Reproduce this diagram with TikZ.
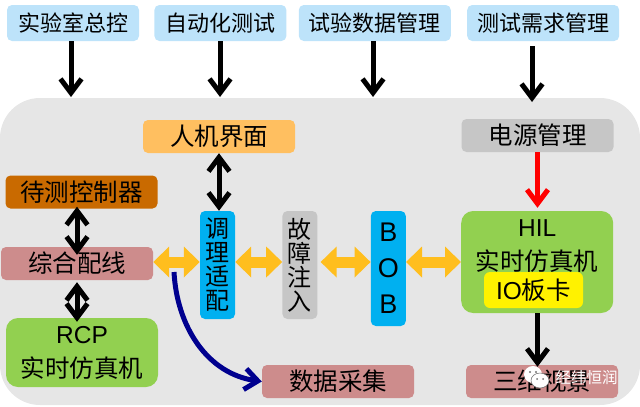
\documentclass[tikz,border=0pt]{standalone}
\usepackage{fontspec}
\setmainfont{Liberation Sans}
\newfontfamily\cjk{Noto Sans CJK SC}
\usepackage{xcolor}
\usetikzlibrary{positioning,arrows.meta}

\definecolor{panelgray}{HTML}{E6E6E6}
\definecolor{skyblue}{HTML}{BDE3FA}
\definecolor{hmiorange}{HTML}{FFBF60}
\definecolor{ecubrown}{HTML}{C96A00}
\definecolor{wirepink}{HTML}{CD8C8C}
\definecolor{simgreen}{HTML}{92D050}
\definecolor{condblue}{HTML}{00B0F0}
\definecolor{boxgray}{HTML}{C6C6C6}
\definecolor{busyellow}{HTML}{FFBE1E}
\definecolor{curvenavy}{HTML}{00008F}

\tikzset{
	blockbox/.style={rectangle, rounded corners=5pt, inner sep=0pt, minimum width=152pt, minimum height=33pt, font=\cjk\fontsize{24.5}{24}\selectfont, align=center},
	topbox/.style={blockbox, fill=skyblue, minimum width=132pt, minimum height=36pt, font=\cjk\fontsize{22}{24}\selectfont},
	tallbox/.style={blockbox, minimum width=35pt, minimum height=108pt, font=\cjk\fontsize{24}{24}\selectfont},
	simbox/.style={blockbox, fill=simgreen, rounded corners=12pt, font=\cjk\fontsize{24.5}{34}\selectfont},
	blackarrow/.style={line width=5pt, black, {Straight Barb[width=21pt,length=14pt]}-{Straight Barb[width=21pt,length=14pt]}},
	downarrow/.style={line width=5pt, black, -{Straight Barb[width=21pt,length=14pt]}},
	busarrow/.style={line width=11pt, busyellow, {Triangle[width=30pt,length=16pt]}-{Triangle[width=30pt,length=16pt]}},
}

\begin{document}
\begin{tikzpicture}[x=1pt, y=-1pt]
	\useasboundingbox (0,0) rectangle (640,407);

	\node[fill=panelgray, rounded corners=40pt, inner sep=0pt, minimum width=640pt, minimum height=307pt] (panel) at (320,251.5) {};

	% top row
	\node[topbox] (labctl) at (73,23) {实验室总控};
	\node[topbox] (autotest) [right=15pt of labctl] {自动化测试};
	\node[topbox, minimum width=152pt] (testdata) [right=12pt of autotest] {试验数据管理};
	\node[topbox, minimum width=152pt] (testreq) [right=16pt of testdata] {测试需求管理};

	\node[blockbox, fill=hmiorange] (hmi) at (219,136.5) {人机界面};
	\node[blockbox, fill=boxgray] (power) at (537.5,135.5) {电源管理};

	\node[blockbox, fill=ecubrown] (ecu) at (81.5,192) {待测控制器};
	\node[blockbox, fill=wirepink] (wiring) at (77,263.5) {综合配线};
	\node[simbox, minimum height=69pt] (rcp) at (82,352.5) {{\rmfamily RCP}\\实时仿真机};

	\node[tallbox, fill=condblue] (cond) at (217.5,265) {调\\理\\适\\配};
	\node[tallbox, fill=boxgray] (fault) [right=47pt of cond] {故\\障\\注\\入};
	\node[tallbox, fill=condblue, minimum height=115pt, font=\rmfamily\fontsize{27}{36}\selectfont] (bob) [right=53pt of fault, yshift=-3.5pt] {B\\O\\B};
	\node[simbox, minimum height=102pt] (hil) [right=55pt of bob, yshift=6.5pt] {{\rmfamily HIL}\\实时仿真机\\[-10pt]\strut};
	\node[blockbox, fill=yellow, minimum width=99pt, minimum height=36pt, rounded corners=6pt] (ioboard) at (533.5,290) {{\rmfamily IO}板卡};

	\node[blockbox, fill=wirepink] (daq) at (338,381.5) {数据采集};
	\node[blockbox, fill=wirepink] (scene) at (542,381.5) {三维视景};

	% arrow ends
	\coordinate (labin) at (71,97);
	\coordinate (autoin) at (220,97);
	\coordinate (datain) at (373,97);
	\coordinate (reqin) at (532,102);
	\coordinate (bus) at (0,262);
	\coordinate (tap) at (174,272);

	\draw[downarrow] (labctl.south -| labin) -- (labin);
	\draw[downarrow] (autotest.south -| autoin) -- (autoin);
	\draw[downarrow] (testdata.south -| datain) -- (datain);
	\draw[downarrow] ([yshift=-5pt]testreq.south -| reqin) -- (reqin);

	\draw[blackarrow] (hmi.south) -- (hmi.south |- cond.north);
	\draw[blackarrow] ([yshift=2pt]ecu.south -| wiring) -- ([yshift=-8pt]wiring.north);
	\draw[blackarrow] ([yshift=-2pt]wiring.south) -- ([yshift=-4pt]rcp.north -| wiring);
	\draw[downarrow, red] (power.south) -- ([yshift=3pt]power.south |- hil.north);
	\draw[downarrow] (hil.south -| power) -- ([yshift=-2pt]scene.north -| power);

	\draw[busarrow] (wiring.east |- bus) -- (cond.west |- bus);
	\draw[busarrow] (cond.east |- bus) -- (fault.west |- bus);
	\draw[busarrow] ([xshift=3pt]fault.east |- bus) -- (bob.west |- bus);
	\draw[busarrow] (bob.east |- bus) -- (hil.west |- bus);

	\draw[curvenavy, line width=5pt, -{Straight Barb[width=21pt,length=13pt]}] (tap) to[out=-87, in=172] (daq.west);

	% logo
	\fill[white] (533,374.5) ellipse [x radius=9pt, y radius=8.5pt];
	\filldraw[white, draw=black!60, line width=0.5pt] (540,380.5) ellipse [x radius=9pt, y radius=7.5pt];
	\fill[black!55] (530,372) circle (1.2pt) (536,372) circle (1.2pt) (537,379) circle (1pt) (543,379) circle (1pt);
	\node[white, font=\cjk\fontsize{15.5}{18}\selectfont, inner sep=0pt] (mark) at (586.5,378) {经纬恒润};
\end{tikzpicture}
\end{document}
